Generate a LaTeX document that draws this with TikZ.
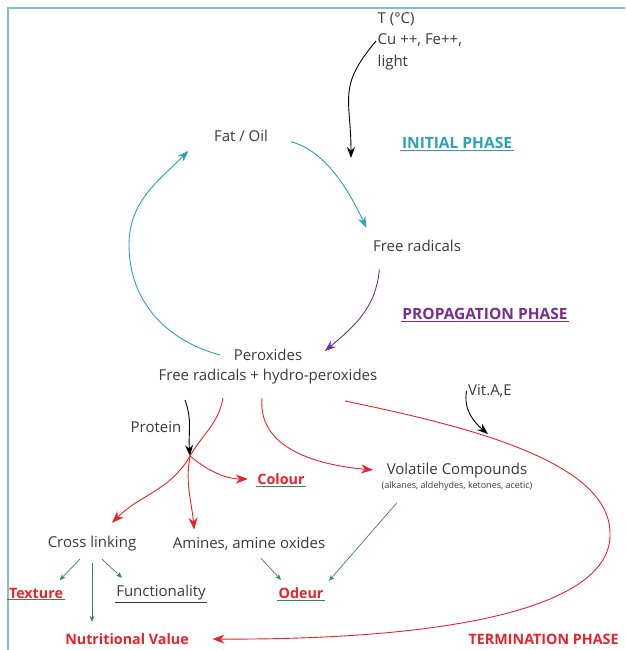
\documentclass[tikz,border=0pt]{standalone}
\usepackage{fontspec}
\setmainfont{Open Sans}
\usetikzlibrary{positioning, arrows.meta}
\definecolor{txt}{HTML}{3A3A3A}
\definecolor{oxred}{HTML}{E8232B}
\definecolor{oxteal}{HTML}{2AA3B8}
\definecolor{oxpurple}{HTML}{7A2D8E}
\definecolor{oxgreen}{HTML}{2F8A55}
\definecolor{frameline}{HTML}{7CC4BC}
\tikzset{
  lbl/.style={font=\fontsize{15}{17}\selectfont, text=txt, inner sep=1.5pt},
  hot/.style={font=\fontsize{14.3}{17}\selectfont\bfseries, text=oxred, inner sep=1.5pt},
  phase/.style={font=\fontsize{15.5}{17}\selectfont\bfseries, inner sep=1.5pt},
  tealarr/.style={draw=oxteal, line width=0.9pt, -{Stealth[length=11pt,width=8pt]}},
  purparr/.style={draw=oxpurple, line width=0.9pt, -{Stealth[length=11pt,width=8pt]}},
  redarr/.style={draw=oxred, line width=0.9pt, -{Stealth[length=12pt,width=9pt]}},
  blkarr/.style={draw=black, line width=0.9pt, -{Stealth[length=11pt,width=8pt]}},
  greenarr/.style={draw=oxgreen, line width=0.7pt, -{Stealth[length=6pt,width=5pt]}}
}
\begin{document}
\begin{tikzpicture}[x=1pt,y=1pt]
\useasboundingbox (0,0) rectangle (625,-650);
\clip (0,0) rectangle (625,-650);
\draw[frameline, line width=1.5pt] (8,-650) -- (8,-8) -- (625,-8); % frame

% cycle
\node[lbl, font=\fontsize{15}{21.5}\selectfont, align=left, anchor=west] (cond) at (376,-41) {T (°C)\\Cu ++, Fe++,\\light};
\node[lbl] (fat) at (241,-136) {Fat / Oil};
\node[phase, text=oxteal] (init) at (457,-143) {INITIAL PHASE};
\node[lbl] (free) at (417,-246) {Free radicals};
\node[phase, text=oxpurple] (prop) at (485,-314) {PROPAGATION PHASE};
\node[lbl] (perox) at (268,-355) {Peroxides};
\node[lbl] (hydro) at (268,-377) {Free radicals + hydro-peroxides};

% products
\node[lbl] (prot) at (156,-427) {Protein};
\node[lbl] (vit) at (490,-391) {Vit.A,E};
\node[hot] (colour) at (281,-479) {Colour};
\node[lbl] (volat) at (457,-471) {Volatile Compounds};
\node[lbl, font=\fontsize{9}{10}\selectfont, below=0pt of volat] (vsub) {(alkanes, aldehydes, ketones, acetic)};
\node[lbl] (cross) at (92,-544) {Cross linking};
\node[lbl] (amines) at (249,-544) {Amines, amine oxides};
\node[hot] (texture) at (36,-593) {Texture};
\node[lbl] (func) at (161,-593) {Functionality};
\node[hot] (odeur) at (301,-593) {Odeur};
\node[hot] (nutri) at (127,-639) {Nutritional Value};
\node[hot, anchor=west] (term) at (467,-639) {TERMINATION PHASE};

\coordinate (tin) at (351,-158);
\coordinate (lft) at (129,-245);
\coordinate (jn) at (190,-456);
\coordinate (ra) at (223,-398);
\coordinate (rb) at (262,-398);
\coordinate (rc) at (345,-401);
\coordinate (far) at (610,-535);
\coordinate (pst) at (185,-400);
\coordinate (vend) at (488,-434);

% underlines
\foreach \n/\c in {init/oxteal, prop/oxpurple, colour/oxgreen, texture/oxgreen, func/txt, odeur/oxgreen}
  \draw[\c, line width=0.8pt] (\n.south west) -- (\n.south east);

\draw[blkarr] (cond.west) to[out=-130, in=90, looseness=1.3] (tin);
\draw[tealarr, shorten <=22pt, shorten >=12pt] (fat.east) to[out=-15, in=115] (free.north west);
\draw[purparr] ([xshift=8pt,yshift=-16pt]free.south west) to[out=-95, in=40] ([xshift=21pt,yshift=4pt]perox.east);
\draw[tealarr] ([xshift=-12pt]perox.west) to[out=165, in=-90] (lft) to[out=90, in=-135] ([xshift=-24pt,yshift=-15pt]fat.west);

\draw[blkarr] (pst) to[out=-70, in=95] (jn);
\draw[redarr] (ra) to[out=-100, in=60] (jn) to[out=-120, in=45] ([xshift=20pt,yshift=12pt]cross.north);
\draw[redarr] (jn) to[out=-100, in=95] ([xshift=23pt,yshift=6pt]amines.north west);
\draw[redarr, shorten >=8pt] (jn) to[out=-40, in=180] (colour.west);
\draw[redarr, shorten >=12pt] (rb) to[out=-95, in=175] (volat.west);
\draw[redarr, shorten >=22pt] (rc) .. controls (460,-425) and (612,-460) .. (far)
  .. controls (610,-600) and (480,-640) .. (nutri.east);
\draw[blkarr] (vit.west) to[out=-100, in=140] (vend);

\draw[greenarr] ([xshift=-12pt,yshift=-6pt]cross.south) -- ([xshift=-5pt,yshift=6pt]texture.north east);
\draw[greenarr] ([xshift=10pt,yshift=-6pt]cross.south) -- ([xshift=-39pt,yshift=6pt]func.north);
\draw[greenarr, shorten >=10pt] ([yshift=-10pt]cross.south) -- (cross.south |- nutri.north);
\draw[greenarr] ([xshift=12pt,yshift=-6pt]amines.south) -- ([xshift=-20pt,yshift=6pt]odeur.north);
\draw[greenarr] ([xshift=-60pt,yshift=-10pt]vsub.south) -- ([xshift=28pt,yshift=5pt]odeur.north);
\end{tikzpicture}
\end{document}
